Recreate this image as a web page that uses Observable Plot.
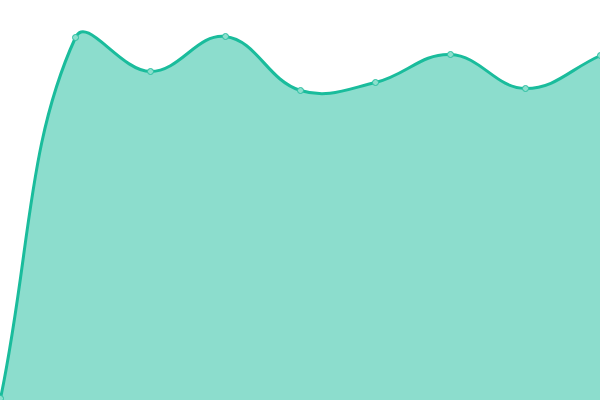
<!DOCTYPE html>
<html>
<head>
<meta charset="utf-8">
<script src="https://cdn.jsdelivr.net/npm/d3@7"></script>
<script src="https://cdn.jsdelivr.net/npm/@observablehq/plot@0.6"></script>
<style>
  html, body { margin: 0; padding: 0; background: #fff; overflow: hidden; }
  #chart svg { display: block; }
</style>
</head>
<body>
<div id="chart"></div>
<script>
const steps = [0, 1, 2, 3, 4, 5, 6, 7, 8];
const values = [2, 363, 329, 364, 310, 318, 346, 312, 345];

const data = steps.map((s, i) => ({ step: s, value: values[i] }));

// Distance-weighted spline (tension 0.4), as a d3 curve factory for Plot
function splineCurve(tension) {
  return function (context) {
    return {
      _line: NaN,
      _pts: [],
      areaStart() { this._line = 0; },
      areaEnd() { this._line = NaN; },
      lineStart() { this._pts = []; },
      point(x, y) { this._pts.push([+x, +y]); },
      lineEnd() {
        const p = this._pts, n = p.length;
        if (n) {
          if (this._line) context.lineTo(p[0][0], p[0][1]);
          else context.moveTo(p[0][0], p[0][1]);
          const cp = p.map((cur, i) => {
            const prev = p[Math.max(i - 1, 0)], next = p[Math.min(i + 1, n - 1)];
            const d01 = Math.hypot(cur[0] - prev[0], cur[1] - prev[1]);
            const d12 = Math.hypot(next[0] - cur[0], next[1] - cur[1]);
            let s01 = d01 / (d01 + d12), s12 = d12 / (d01 + d12);
            if (isNaN(s01)) s01 = 0;
            if (isNaN(s12)) s12 = 0;
            const fa = tension * s01, fb = tension * s12;
            return {
              px: cur[0] - fa * (next[0] - prev[0]), py: cur[1] - fa * (next[1] - prev[1]),
              nx: cur[0] + fb * (next[0] - prev[0]), ny: cur[1] + fb * (next[1] - prev[1])
            };
          });
          for (let i = 1; i < n; ++i) {
            context.bezierCurveTo(cp[i - 1].nx, cp[i - 1].ny, cp[i].px, cp[i].py, p[i][0], p[i][1]);
          }
        }
        if (this._line || (this._line !== 0 && n === 1)) context.closePath();
        this._line = 1 - this._line;
      }
    };
  };
}
const curve = splineCurve(0.4);

const chart = Plot.plot({
  width: 600,
  height: 400,
  margin: 0,
  x: { domain: [0, 8], axis: null },
  y: { domain: [0, 400], axis: null },
  marks: [
    Plot.areaY(data, { x: "step", y: "value", curve, fill: "#1abc9c", fillOpacity: 0.5 }),
    Plot.lineY(data, { x: "step", y: "value", curve, stroke: "#1abc9c", strokeWidth: 3 }),
    Plot.dot(data, { x: "step", y: "value", r: 3, fill: "#8cdfcd", stroke: "#2cc0a2", strokeWidth: 1 })
  ]
});
document.getElementById("chart").appendChild(chart);
</script>
</body>
</html>
